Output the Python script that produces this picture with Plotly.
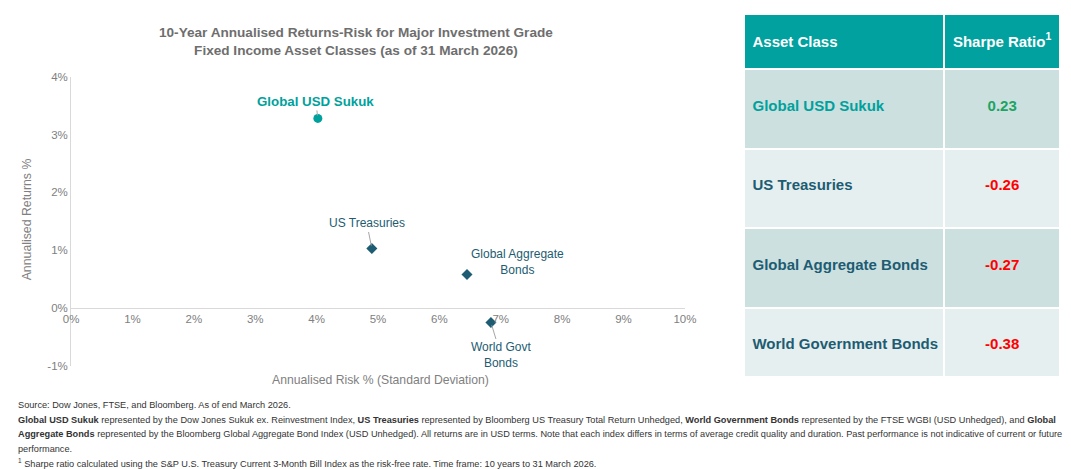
import plotly.graph_objects as go

# data
assets = ["Global USD Sukuk", "US Treasuries", "Global Aggregate Bonds", "World Government Bonds"]
point_labels = ["Global USD Sukuk", "US Treasuries", "Global Aggregate<br>Bonds", "World Govt<br>Bonds"]
risk = [4.02, 4.90, 6.45, 6.84]        # annualised risk %, x
returns = [3.28, 1.03, 0.58, -0.25]    # annualised returns %, y
sharpe = [0.23, -0.26, -0.27, -0.38]
x_ticks = [0, 1, 2, 3, 4, 5, 6, 7, 8, 9, 10]
y_ticks = [-1, 0, 1, 2, 3, 4]

W, H = 1071, 469
FONT = "Liberation Sans, Arial, sans-serif"
TEAL = "#00A19C"
NAVY = "#1D5C72"
GREY = "#808080"

# the screenshot comes out offset/shrunk a bit, so positions are given in
# target-picture pixels and mapped back to paper fractions here
OX, SX, OY, SY = 17.0, 0.98, 15.4, 0.971


def fx(px):
    return max(0.0, (px - OX) / SX / W)


def fy(py):
    return min(1.0, 1 - (py - OY) / SY / H)


y_dom = [fy(366), fy(78)]
x_pos = y_dom[0] + (0 - y_ticks[0]) / (y_ticks[-1] - y_ticks[0]) * (y_dom[1] - y_dom[0])

fig = go.Figure()

# scatter points
fig.add_trace(
    go.Scatter(
        x=risk[:1],
        y=returns[:1],
        mode="markers",
        marker=dict(symbol="circle", size=9, color=TEAL),
        showlegend=False,
        hoverinfo="skip",
    )
)
fig.add_trace(
    go.Scatter(
        x=risk[1:],
        y=returns[1:],
        mode="markers",
        marker=dict(symbol="diamond", size=8.5, color=NAVY),
        showlegend=False,
        hoverinfo="skip",
    )
)

# point labels: (ax, ay, arrow visible)
label_offsets = [(-2, -17, True), (-5, -25, True), (51, -13, False), (10, 33, True)]
for i, (ax, ay, arrow) in enumerate(label_offsets):
    sukuk = i == 0
    fig.add_annotation(
        x=risk[i],
        y=returns[i],
        text="<b>%s</b>" % point_labels[i] if sukuk else point_labels[i],
        showarrow=True,
        ax=ax,
        ay=ay,
        arrowhead=0,
        arrowwidth=1,
        arrowcolor="#A6A6A6" if arrow else "rgba(0,0,0,0)",
        standoff=3,
        font=dict(family=FONT, size=13.3 if sukuk else 12, color=TEAL if sukuk else NAVY),
    )

# sharpe table
row_fill = ["#CCE0E0", "#E6EFEF", "#CCE0E0", "#E6EFEF"]
name_colors = [TEAL] + [NAVY] * (len(assets) - 1)
sharpe_colors = ["#1DA462" if s > 0 else "#FF0000" for s in sharpe]
pad = "\u00a0<br>"
big = '<span style="font-size:15px"><b>%s</b></span>'
fig.add_trace(
    go.Table(
        domain=dict(x=[fx(744.5), fx(1061)], y=[fy(377), fy(15)]),
        columnwidth=[200, 117],
        header=dict(
            values=[pad + big % "Asset Class", pad + big % "Sharpe\u00a0Ratio<sup>1</sup>"],
            fill_color="#00A19E",
            line=dict(color="white", width=2),
            align=["left", "center"],
            height=55,
            font=dict(family=FONT, size=11.3, color="white"),
        ),
        cells=dict(
            values=[
                [pad + "<b>%s</b>" % a for a in assets],
                [pad + "<b>%.2f</b>" % s for s in sharpe],
            ],
            fill_color=[row_fill, row_fill],
            line=dict(color="white", width=2),
            align=["left", "center"],
            height=79.5,
            font=dict(family=FONT, size=15, color=[name_colors, sharpe_colors]),
        ),
    )
)

fig.layout.update(
    {
        "width": W,
        "height": H,
        "margin": dict(l=0, r=0, t=0, b=0),
        "paper_bgcolor": "white",
        "plot_bgcolor": "white",
        "showlegend": False,
    }
)
fig.layout.xaxis.update(
    {
        "domain": [fx(72), fx(685)],
        "range": [x_ticks[0], x_ticks[-1]],
        "tickvals": x_ticks,
        "ticktext": ["%d%%" % t for t in x_ticks],
        "tickfont": dict(family=FONT, size=11.5, color=GREY),
        "showgrid": False,
        "zeroline": False,
        "showline": True,
        "linecolor": "#D9D9D9",
        "linewidth": 1,
        "anchor": "free",
        "position": x_pos,
        "fixedrange": True,
    }
)
fig.layout.yaxis.update(
    {
        "domain": y_dom,
        "range": [y_ticks[0], y_ticks[-1]],
        "tickvals": y_ticks,
        "ticktext": ["%d%%" % t for t in y_ticks],
        "tickfont": dict(family=FONT, size=11.5, color=GREY),
        "showgrid": False,
        "zeroline": False,
        "showline": True,
        "linecolor": "#D9D9D9",
        "linewidth": 1,
        "fixedrange": True,
    }
)

# titles
fig.add_annotation(
    xref="paper", yref="paper", x=fx(357), y=fy(42.5), xanchor="center", yanchor="middle",
    showarrow=False,
    text="<b>10-Year Annualised Returns-Risk for Major Investment Grade<br>Fixed Income Asset Classes (as of 31 March 2026)</b>",
    font=dict(family=FONT, size=13.6, color="#6E6E6E"),
)
fig.add_annotation(
    xref="paper", yref="paper", x=fx(28), y=fy(220), xanchor="center", yanchor="middle",
    showarrow=False, textangle=-90,
    text="Annualised Returns %",
    font=dict(family=FONT, size=12.3, color=GREY),
)
fig.add_annotation(
    xref="paper", yref="paper", x=fx(381), y=fy(380), xanchor="center", yanchor="middle",
    showarrow=False,
    text="Annualised Risk % (Standard Deviation)",
    font=dict(family=FONT, size=12.2, color=GREY),
)

# footnotes, one annotation per line
notes = [
    "Source: Dow Jones, FTSE, and Bloomberg. As of end March 2026.",
    "<b>Global USD Sukuk</b> represented by the Dow Jones Sukuk ex. Reinvestment Index, <b>US Treasuries</b> represented by Bloomberg US Treasury Total Return Unhedged, "
    "<b>World Government Bonds</b> represented by the FTSE WGBI (USD Unhedged), and <b>Global</b>",
    "<b>Aggregate Bonds</b> represented by the Bloomberg Global Aggregate Bond Index (USD Unhedged). All returns are in USD terms. Note that each index differs in terms of "
    "average credit quality and duration. Past performance is not indicative of current or future",
    "performance.",
    "<sup>1</sup> Sharpe ratio calculated using the S&amp;P U.S. Treasury Current 3-Month Bill Index as the risk-free rate. Time frame: 10 years to 31 March 2026.",
]
for i, line in enumerate(notes):
    fig.add_annotation(
        xref="paper", yref="paper", x=fx(4), y=fy(405 + 14.5 * i), xanchor="left", yanchor="middle",
        showarrow=False, align="left",
        text=line,
        font=dict(family=FONT, size=9.2, color="#333333"),
    )

fig.write_html("out.html")
